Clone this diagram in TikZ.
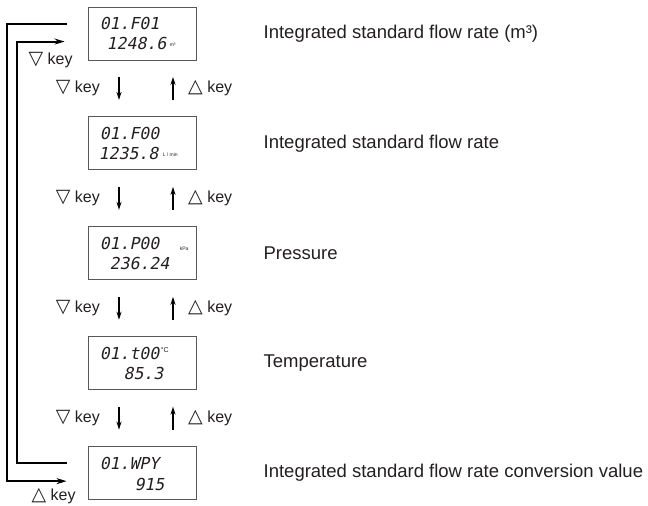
\documentclass[tikz,border=0pt]{standalone}
\usepackage{fontspec}
\setmainfont{Liberation Sans}
\newfontfamily\lcdfont{DejaVu Sans Mono}[FakeSlant=0.2]
\newfontfamily\symfont{DejaVu Sans}
\usetikzlibrary{positioning,calc,arrows.meta}
\definecolor{ink}{HTML}{231F20}
\newcommand{\keydn}{{\symfont\fontsize{19}{18}\selectfont ▽}}
\newcommand{\keyup}{{\symfont\fontsize{19}{18}\selectfont △}}
\tikzset{
  display/.style={draw=ink!75, line width=0.9pt, minimum width=108pt, minimum height=53pt, inner sep=0pt},
  lcd/.style={font=\lcdfont\fontsize{16.5}{16.5}\selectfont, inner sep=0pt, text=ink},
  unit/.style={font=\fontsize{5}{5}\selectfont, inner sep=0pt, text=ink},
  caption/.style={font=\fontsize{18.5}{20}\selectfont, inner sep=0pt, text=ink},
  keylabel/.style={font=\fontsize{16}{18}\selectfont, inner sep=0pt, text=ink},
  keyarrow/.style={-{Stealth[length=8pt,width=5pt]}, line width=1.4pt, shorten <=16.5pt, shorten >=16.5pt},
  loopline/.style={line width=2pt, -{Stealth[length=10pt,width=6pt]}},
}
\begin{document}
\begin{tikzpicture}[x=1pt,y=-1pt]
\useasboundingbox (0,0) rectangle (648,506);
% displays
\node[display] (d1) at (142,33.5) {};
\node[display, below=56pt of d1] (d2) {};
\node[display, below=56pt of d2] (d3) {};
\node[display, below=56pt of d3] (d4) {};
\node[display, below=56pt of d4] (d5) {};
% display readings
\node[lcd, anchor=west] (d1top) at ($(d1.north west)+(12,17)$) {01.F01};
\node[lcd, anchor=east] (d1bot) at ($(d1.north west)+(79,37)$) {1248.6};
\node[unit, anchor=west] (d1unit) at ($(d1bot.east)+(3,1)$) {m³};
\node[lcd, anchor=west] (d2top) at ($(d2.north west)+(12,17)$) {01.F00};
\node[lcd, anchor=east] (d2bot) at ($(d2.north west)+(71,37)$) {1235.8};
\node[unit, anchor=west] (d2unit) at ($(d2bot.east)+(4,1)$) {L / min};
\node[lcd, anchor=west] (d3top) at ($(d3.north west)+(12,17)$) {01.P00};
\node[unit, anchor=west] (d3unit) at ($(d3.north west)+(92,22)$) {kPa};
\node[lcd, anchor=east] (d3bot) at ($(d3.north west)+(82,37)$) {236.24};
\node[lcd, anchor=west] (d4top) at ($(d4.north west)+(12,17)$) {01.t00};
\node[unit, anchor=west, font=\fontsize{7}{7}\selectfont] (d4unit) at ($(d4top.north east)+(1,3)$) {°C};
\node[lcd, anchor=east] (d4bot) at ($(d4.north west)+(76,37)$) {85.3};
\node[lcd, anchor=west] (d5top) at ($(d5.north west)+(12,17)$) {01.WPY};
\node[lcd, anchor=east] (d5bot) at ($(d5.north west)+(77,38)$) {915};
% captions
\node[caption, anchor=west, right=67pt of d1] (c1) {Integrated standard flow rate (m³)};
\node[caption, anchor=west, right=67pt of d2] (c2) {Integrated standard flow rate};
\node[caption, anchor=west, right=67pt of d3] (c3) {Pressure};
\node[caption, anchor=west, right=67pt of d4] (c4) {Temperature};
\node[caption, anchor=west, right=67pt of d5] (c5) {Integrated standard flow rate conversion value};
% key arrows between displays
\draw[keyarrow] ([xshift=-23pt]d1.south) -- ([xshift=-23pt]d2.north);
\draw[keyarrow] ([xshift=31pt]d2.north) -- ([xshift=31pt]d1.south);
\draw[keyarrow] ([xshift=-23pt]d2.south) -- ([xshift=-23pt]d3.north);
\draw[keyarrow] ([xshift=31pt]d3.north) -- ([xshift=31pt]d2.south);
\draw[keyarrow] ([xshift=-23pt]d3.south) -- ([xshift=-23pt]d4.north);
\draw[keyarrow] ([xshift=31pt]d4.north) -- ([xshift=31pt]d3.south);
\draw[keyarrow] ([xshift=-23pt]d4.south) -- ([xshift=-23pt]d5.north);
\draw[keyarrow] ([xshift=31pt]d5.north) -- ([xshift=31pt]d4.south);
\node[keylabel, anchor=east] (k1d) at ($(d1.south)!0.5!(d2.north)+(-42pt,0)$) {\keydn\ key};
\node[keylabel, anchor=west] (k1u) at ($(d1.south)!0.5!(d2.north)+(46pt,0)$) {\keyup\ key};
\node[keylabel, anchor=east] (k2d) at ($(d2.south)!0.5!(d3.north)+(-42pt,0)$) {\keydn\ key};
\node[keylabel, anchor=west] (k2u) at ($(d2.south)!0.5!(d3.north)+(46pt,0)$) {\keyup\ key};
\node[keylabel, anchor=east] (k3d) at ($(d3.south)!0.5!(d4.north)+(-42pt,0)$) {\keydn\ key};
\node[keylabel, anchor=west] (k3u) at ($(d3.south)!0.5!(d4.north)+(46pt,0)$) {\keyup\ key};
\node[keylabel, anchor=east] (k4d) at ($(d4.south)!0.5!(d5.north)+(-42pt,0)$) {\keydn\ key};
\node[keylabel, anchor=west] (k4u) at ($(d4.south)!0.5!(d5.north)+(46pt,0)$) {\keyup\ key};
% wrap-around loops
\coordinate (o1) at ($(d1.north west)+(-21,17)$);
\coordinate (i1) at ($(d1.north west)+(-23,35)$);
\coordinate (i5) at ($(d5.north west)+(-21,17)$);
\coordinate (o5) at ($(d5.north west)+(-21,35)$);
\draw[loopline] (o1) -- ++(-60,0) |- (o5);
\draw[loopline] (i5) -- ++(-50,0) |- (i1);
\node[keylabel] (kin) at ($(d1.north west)+(-37,54)$) {\keydn\ key};
\node[keylabel] (kout) at ($(d5.north west)+(-34,50)$) {\keyup\ key};
\end{tikzpicture}
\end{document}
